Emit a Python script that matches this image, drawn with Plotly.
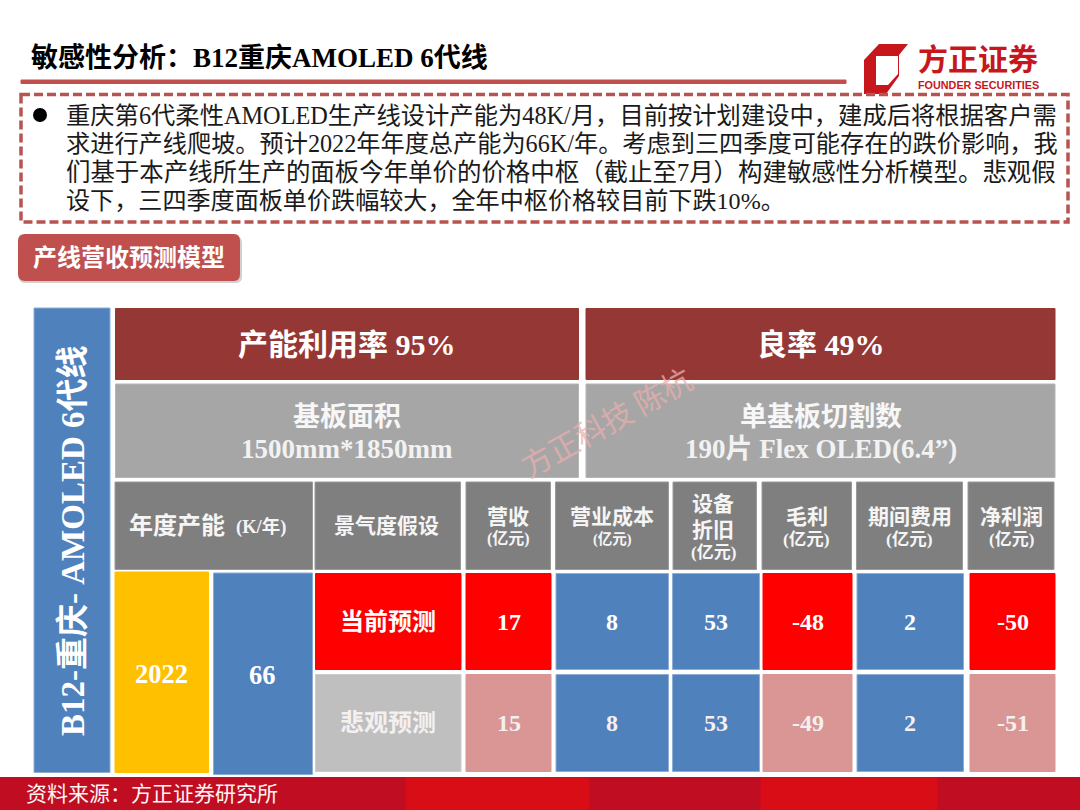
import plotly.graph_objects as go

# slide text
title_text = "敏感性分析：B12重庆AMOLED 6代线"
bullet_lines = [
    "重庆第6代柔性AMOLED生产线设计产能为48K/月，目前按计划建设中，建成后将根据客户需",
    "求进行产线爬坡。预计2022年年度总产能为66K/年。考虑到三四季度可能存在的跌价影响，我",
    "们基于本产线所生产的面板今年单价的价格中枢（截止至7月）构建敏感性分析模型。悲观假",
    "设下，三四季度面板单价跌幅较大，全年中枢价格较目前下跌10%。",
]
button_text = "产线营收预测模型"
side_label = "B12-重庆- AMOLED 6代线"
source_text = "资料来源：方正证券研究所"
watermark = "方正科技 陈杭"

# table content
top_labels = ["产能利用率 95%", "良率 49%"]
spec_titles = ["基板面积", "单基板切割数"]
spec_values = ["1500mm*1850mm", "190片 Flex OLED(6.4”)"]
year = "2022"
capacity = "66"
scenarios = ["当前预测", "悲观预测"]
metric_names = [["营收"], ["营业成本"], ["设备", "折旧"], ["毛利"], ["期间费用"], ["净利润"]]
current_values = [17, 8, 53, -48, 2, -50]
bearish_values = [15, 8, 53, -49, 2, -51]

# colours
RED_LINE = "#c0504d"
DARK_RED = "#953735"
GREY = "#a6a6a6"
HEADER = "#7f7f7f"
BLUE = "#4f81bd"
GOLD = "#ffc000"
RED = "#ff0000"
PALE = "#d99694"
LIGHT_GREY = "#bfbfbf"
CJK = "'Liberation Serif', 'Noto Sans CJK SC'"

fig = go.Figure(go.Scatter(x=[], y=[], hoverinfo="skip"))


def box(x0, y0, x1, y1, fill, edge=None, width=1):
    fig.add_shape(type="rect", x0=x0, y0=y0, x1=x1, y1=y1, fillcolor=fill,
                  line=dict(color=edge or fill, width=width), layer="above")


def label(x, y, text, size, color="white", bold=True, anchor="center", angle=0, family=CJK):
    text = f"<b>{text}</b>" if bold else text
    fig.add_annotation(x=x, y=y, text=text, showarrow=False, xanchor=anchor, yanchor="middle",
                       textangle=angle, font=dict(family=family, size=size, color=color))


# title + rule
label(29, 57, title_text, 27, color="black", anchor="left")
box(21, 80, 846, 83.5, RED_LINE)

# logo
fig.add_shape(type="path", fillcolor="#c8161d", line_width=0, layer="above",
              path="M 879 44 L 908 44 L 899 55 L 899 76 L 886 94 L 864 94 L 864 60 Z")
fig.add_shape(type="path", fillcolor="white", line_width=0, layer="above",
              path="M 876 56 L 898 56 L 898 74 L 888 85 L 876 85 Z")
label(978, 57, "方正证券", 30, color="#c8161d", family="'Noto Sans CJK SC'")
label(978, 85, "FOUNDER SECURITIES", 10.8, color="#c8161d", family="'Liberation Sans Narrow', 'Liberation Sans'")

# dashed text box
fig.add_shape(type="rect", x0=21, y0=94.5, x1=1068, y1=222, line=dict(color="#b85450", width=3.5, dash="9px,4px"))
fig.add_shape(type="circle", x0=33, y0=108, x1=47, y1=122, fillcolor="black", line_width=0)
line_sizes = [24.3, 24.2, 24.45, 24.1]
for i, (line, size) in enumerate(zip(bullet_lines, line_sizes)):
    label(64, 115 + i * 28.7, line, size, color="#1a1a1a", bold=False, anchor="left")

# section button
button_path = "M {0} {1} L {2} {1} Q {3} {1} {3} {4} L {3} {5} Q {3} {6} {2} {6} L {0} {6} Q {7} {6} {7} {5} L {7} {4} Q {7} {1} {0} {1} Z"
fig.add_shape(type="path", path=button_path.format(25, 236, 235, 242, 243, 277, 283, 19),
              fillcolor="rgba(0,0,0,0.18)", line_width=0)
fig.add_shape(type="path", path=button_path.format(25, 234, 234, 240, 241, 274, 281, 18),
              fillcolor=RED_LINE, line_width=0)
label(129, 258, button_text, 24)

# table grid (pixel edges of the slide layout)
top_cols = [(115.5, 578.5), (586, 1055)]
head_cols = [(466, 550.5), (555.5, 668.5), (673, 756.5), (762, 851.5), (856.5, 962.5), (968, 1054)]
body_cols = [(466, 551), (556, 668.5), (672.5, 759.5), (763, 852), (857, 963.5), (970, 1055)]
body_rows = [(573.5, 669.5), (674.5, 771.5)]
unit_sizes = [16, 14.5, 17, 17.5, 17.5, 17]

# left rotated band
box(34, 308, 110, 772.5, BLUE, edge="#8eaed6")
label(73, 541, side_label, 33, angle=-90)

# capacity / yield and spec rows
for (x0, x1), top, spec, value in zip(top_cols, top_labels, spec_titles, spec_values):
    box(x0, 308.5, x1, 379.5, DARK_RED)
    box(x0, 384, x1, 477.5, GREY, edge="#b5b5b5")
    label((x0 + x1) / 2, 344, top, 30)
    label((x0 + x1) / 2, 417, spec, 27, color="#f7f7f7")
    label((x0 + x1) / 2, 449, value, 27, color="#f2f2f2")

# header row
box(115, 482, 312.5, 569.5, HEADER, edge="#9a9a9a")
box(315, 482, 460.5, 569.5, HEADER, edge="#9a9a9a")
label(177, 526, "年度产能", 24, color="#f5f5f5")
label(261, 527, "(K/年)", 18.5, color="#f5f5f5")
label(386.5, 526, "景气度假设", 21, color="#f5f5f5")
for (x0, x1), name, unit in zip(head_cols, metric_names, unit_sizes):
    box(x0, 482, x1, 569.5, HEADER, edge="#9a9a9a")
    center = (x0 + x1) / 2
    if len(name) == 2:
        label(center - 1.5, 504, name[0], 21, color="#f5f5f5")
        label(center - 1.5, 530, name[1], 21, color="#f5f5f5")
        label(center - 1.5, 552, "(亿元)", unit, color="#f5f5f5")
    else:
        label(center, 517, name[0], 21, color="#f5f5f5")
        label(center, 539, "(亿元)", unit, color="#f5f5f5")

# merged cells on the left
box(115, 572, 208.5, 772.5, GOLD)
box(213.5, 573, 312.5, 774.5, BLUE, edge="#8eaed6")
label(161.5, 674, year, 26.5)
label(262.5, 675, capacity, 26.5)

# scenario rows
row_fills = [RED, PALE]
scenario_fills = [RED, LIGHT_GREY]
text_colors = ["white", "#f5f0f0"]
for row, values in enumerate([current_values, bearish_values]):
    y0, y1 = body_rows[row]
    mid = (y0 + y1) / 2
    box(315.5, y0, 461, y1, scenario_fills[row], edge=None if row == 0 else "#cccccc")
    label(387.5, mid, scenarios[row], 24, color=text_colors[row])
    for col, value in enumerate(values):
        x0, x1 = body_cols[col]
        # revenue / gross profit / net profit carry the scenario colour, the rest stay blue
        if col in (0, 3, 5):
            box(x0, y0, x1, y1, row_fills[row])
        else:
            box(x0, y0, x1, y1, BLUE, edge="#8eaed6")
        label((x0 + x1) / 2, mid, str(value), 24, color=text_colors[row])

# footer band
box(0, 777.5, 1080, 810, "#c00d22")
for x0, x1 in [(406, 589), (761, 937)]:
    box(x0, 777.5, x1, 810, "#d80d16")
label(24, 794, source_text, 21, bold=False, color="#fff4f4", anchor="left")

# watermark sits on top of everything
label(606, 421, watermark, 30.5, color="rgba(235,175,175,0.75)", bold=False, angle=-29, family="'Noto Sans CJK SC'")

fig.update_layout(
    width=1080, height=810, margin=dict(l=0, r=0, t=0, b=0), showlegend=False,
    paper_bgcolor="white", plot_bgcolor="white",
    xaxis=dict(range=[0, 1080], visible=False, fixedrange=True),
    yaxis=dict(range=[810, 0], visible=False, fixedrange=True),
)
fig.write_html("out.html", post_script="document.body.style.margin='0'", config={"displayModeBar": False})
